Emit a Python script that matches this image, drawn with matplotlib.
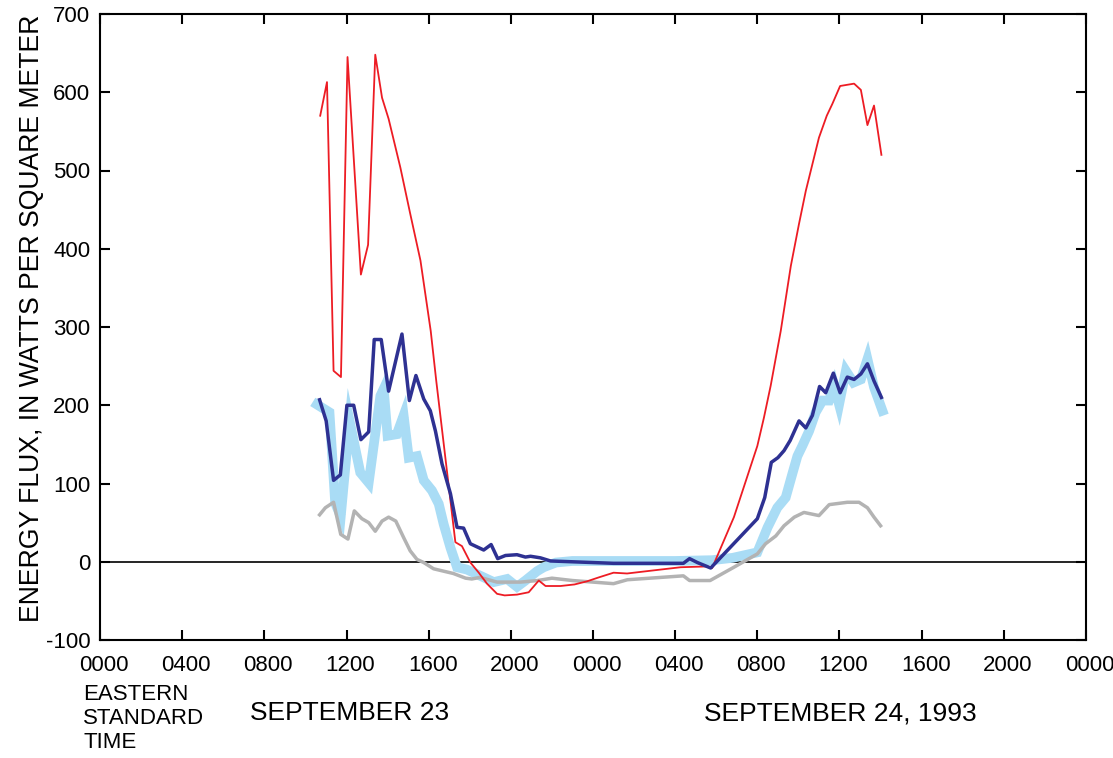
import matplotlib
matplotlib.use("Agg")
from matplotlib import pyplot as plt
from matplotlib import transforms

plt.rcParams['font.family'] = ['Liberation Sans', 'DejaVu Sans']

# hours since 0000 September 23, 1993 (EST)
red_h = [10.72, 11.05, 11.37, 11.73, 12.05, 12.70, 13.05, 13.40, 13.73, 14.05,
         14.62, 15.10, 15.60, 16.10, 16.37, 17.30, 17.62, 18.03, 18.44, 18.84,
         19.33, 19.70, 20.30, 20.87, 21.36, 21.69, 22.42, 23.10, 23.71, 24.28,
         25.00, 25.66, 26.96, 28.27, 29.56, 29.80, 30.86, 32.00, 32.32, 32.65,
         33.14, 33.63, 34.03, 34.36, 34.68, 35.00, 35.38, 35.65, 36.03, 36.71,
         37.04, 37.36, 37.68, 38.04]
red_v = [570, 613, 244, 236, 645, 367, 405, 648, 593, 566,
         504, 445, 385, 295, 231, 25, 20, -1, -14, -28,
         -41, -43, -42, -39, -24, -31, -31, -29, -25, -20,
         -14, -15, -11, -7, -6, -8, 57, 148, 184, 225,
         295, 378, 432, 474, 508, 542, 570, 585, 608, 611,
         603, 558, 583, 520]

navy_h = [10.69, 11.01, 11.37, 11.70, 12.02, 12.35, 12.70, 13.08, 13.35, 13.69,
          14.05, 14.70, 15.06, 15.38, 15.76, 16.08, 16.33, 16.65, 17.06, 17.38,
          17.70, 18.03, 18.68, 19.04, 19.36, 19.74, 20.30, 20.71, 20.96, 21.44,
          21.93, 25.00, 28.40, 28.70, 29.08, 29.73, 32.00, 32.36, 32.68, 33.00,
          33.30, 33.60, 34.03, 34.36, 34.68, 35.03, 35.33, 35.70, 36.03, 36.38,
          36.71, 37.04, 37.36, 37.68, 38.04]
navy_v = [207, 180, 104, 111, 200, 200, 156, 166, 284, 284,
          218, 291, 206, 238, 208, 193, 167, 125, 87, 44,
          43, 23, 15, 22, 4, 8, 9, 6, 7, 5,
          1, -2, -2, 4, -1, -8, 55, 82, 127, 133,
          142, 155, 180, 171, 187, 224, 216, 241, 216, 236,
          233, 240, 253, 231, 210]

light_h = [10.56, 11.17, 11.45, 11.72, 12.15, 12.67, 13.08, 13.65, 13.81, 14.00,
           14.45, 14.78, 15.03, 15.43, 15.76, 16.16, 16.49, 16.73, 17.06, 17.38,
           17.86, 18.52, 19.17, 19.82, 20.30, 20.71, 21.28, 21.60, 22.20, 23.00,
           25.00, 28.00, 29.80, 30.80, 32.00, 32.50, 32.97, 33.38, 33.70, 33.95,
           34.19, 34.52, 34.84, 35.17, 35.49, 35.74, 35.98, 36.31, 36.68, 37.04,
           37.36, 37.68, 38.09]
light_v = [201, 191, 75, 58, 180, 114, 101, 212, 221, 161,
           163, 187, 133, 135, 104, 91, 74, 48, 18, -7,
           -10, -18, -26, -22, -32, -24, -12, -7, -1, 1,
           1, 1, 2, 5, 12, 44, 69, 82, 112, 135,
           148, 167, 191, 206, 206, 225, 201, 244, 229, 233,
           259, 223, 193]

gray_h = [10.69, 10.97, 11.37, 11.72, 12.07, 12.38, 12.75, 13.08, 13.40, 13.73,
          14.05, 14.40, 14.78, 15.10, 15.43, 15.76, 16.24, 17.20, 17.80, 18.10,
          18.50, 19.33, 20.47, 21.30, 22.00, 23.00, 25.00, 25.67, 28.40, 28.70,
          29.70, 30.86, 32.00, 32.40, 32.90, 33.30, 33.80, 34.27, 35.00, 35.50,
          36.38, 36.95, 37.36, 37.68, 38.00]
gray_v = [60, 69, 76, 35, 29, 65, 55, 50, 39, 52,
          57, 52, 31, 14, 3, -1, -9, -15, -21, -22,
          -20, -26, -26, -24, -21, -24, -28, -23, -18, -24,
          -24, -7, 10, 23, 33, 46, 57, 63, 59, 73,
          76, 76, 69, 57, 46]

x_ticks = list(range(0, 49, 4))
x_labels = ['0000', '0400', '0800', '1200', '1600', '2000',
            '0000', '0400', '0800', '1200', '1600', '2000', '0000']
y_ticks = list(range(-100, 701, 100))

fig = plt.figure(figsize=(11.13, 7.58), dpi=100)
ax = fig.add_axes([100 / 1113, 1 - 640 / 758, 986 / 1113, 626 / 758])

ax.axhline(0, color='black', lw=1.2, zorder=1)
ax.plot(light_h, light_v, color='#a9dcf5', lw=7, solid_joinstyle='miter', zorder=2)
ax.plot(gray_h, gray_v, color='#b3b3b3', lw=2.5, zorder=3)
ax.plot(red_h, red_v, color='#ed1c24', lw=1.3, zorder=4)
ax.plot(navy_h, navy_v, color='#2e3192', lw=2.5, zorder=5)

ax.set_xlim(0, 48)
ax.set_ylim(-100, 700)
ax.set_xticks(x_ticks)
ax.set_xticklabels(x_labels, fontsize=16)
ax.set_yticks(y_ticks)
ax.set_yticklabels([str(v) for v in y_ticks], fontsize=16)
ax.tick_params(direction='in', top=True, right=True, length=7, width=1.5)
ax.tick_params(axis='x', pad=11)
ax.tick_params(axis='y', pad=7)
for s in ax.spines.values():
    s.set_linewidth(1.5)

# x labels sit a little right of their ticks in the original
shift = transforms.ScaledTranslation(4 / 100, 0, fig.dpi_scale_trans)
for lbl in ax.get_xticklabels():
    lbl.set_transform(lbl.get_transform() + shift)

ax.set_ylabel('ENERGY FLUX, IN WATTS PER SQUARE METER', fontsize=19.2)
ax.yaxis.set_label_coords(-0.056, 0.514)

fig.text(83 / 1113, 1 - 684 / 758, 'EASTERN\nSTANDARD\nTIME', fontsize=16,
         ha='left', va='top', linespacing=1.2)
fig.text(350 / 1113, 1 - 713 / 758, 'SEPTEMBER 23', fontsize=19,
         ha='center', va='center')
fig.text(840 / 1113, 1 - 713 / 758, 'SEPTEMBER 24, 1993', fontsize=19,
         ha='center', va='center')

fig.savefig('out.png', dpi=100)
